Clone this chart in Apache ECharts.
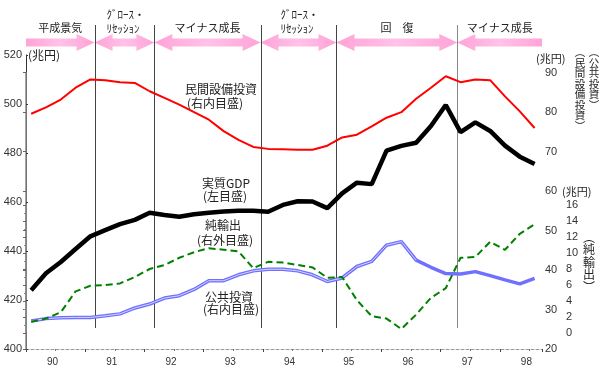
<!DOCTYPE html>
<html>
<head>
<meta charset="utf-8">
<script src="https://cdn.jsdelivr.net/npm/echarts/dist/echarts.min.js"></script>
<style>
html, body { margin: 0; padding: 0; background: #fff; }
#chart { width: 600px; height: 375px; }
</style>
</head>
<body>
<div id="chart"></div>
<script>
// 四半期 (90年1-3月期 ～ 98年7-9月期)
var quarters = ['90Q1','90Q2','90Q3','90Q4','91Q1','91Q2','91Q3','91Q4','92Q1','92Q2','92Q3','92Q4',
                '93Q1','93Q2','93Q3','93Q4','94Q1','94Q2','94Q3','94Q4','95Q1','95Q2','95Q3','95Q4',
                '96Q1','96Q2','96Q3','96Q4','97Q1','97Q2','97Q3','97Q4','98Q1','98Q2','98Q3'];
var years = ['90', '91', '92', '93', '94', '95', '96', '97', '98'];

// 実質GDP (左目盛)
var gdp = [424, 430.9, 435.5, 440.8, 446, 448.5, 451, 452.7, 455.6, 454.7, 454, 455,
           455.6, 456.1, 456.4, 456.4, 456, 458.8, 460.3, 460.2, 457.5, 463.5, 467.9, 467.3,
           481, 482.9, 484.2, 491, 499.6, 488.5, 492.5, 489, 483, 478.5, 475.5];
// 民間設備投資 (右内目盛)
var capex = [79.6, 81.2, 83.2, 86.2, 88.3, 88.1, 87.6, 87.4, 85.3, 83.6, 81.9, 80,
             78.1, 75.2, 73, 71.2, 70.7, 70.6, 70.5, 70.5, 71.5, 73.6, 74.3, 76.4,
             78.6, 80, 83.4, 86.2, 89.1, 87.6, 88.3, 88.1, 84, 80.2, 76];
// 公共投資 (右内目盛)
var pubInv = [27.1, 27.7, 27.9, 28, 28, 28.4, 28.9, 30.4, 31.4, 32.9, 33.5, 35.1,
              37.3, 37.3, 38.8, 39.8, 40.2, 40.2, 39.8, 38.8, 37.1, 38, 40.9, 42.2,
              46.3, 47.2, 42.5, 40.7, 39.1, 39, 39.6, 38.6, 37.5, 36.5, 37.9];
// 純輸出 (右外目盛)
var netExport = [1.4, 1.8, 2.6, 5.2, 5.9, 6, 6.2, 7, 8, 8.5, 9.4, 10.1,
                 10.6, 10.4, 10.2, 8.1, 8.9, 8.8, 8.5, 8.2, 6.9, 7, 4.1, 2.1,
                 1.8, 0.5, 2.3, 4.4, 5.6, 9.4, 9.5, 11.4, 10.4, 12.4, 13.6];

// 景気局面の境目 (四半期単位, 90年初 = 0)
var phaseBounds = [4.63, 8.67, 15.84, 20.97, 29.13];
var phaseNames = ['平成景気', 'ｸﾞﾛｰｽ・\nﾘｾｯｼｮﾝ', 'マイナス成長', 'ｸﾞﾛｰｽ・\nﾘｾｯｼｮﾝ', '回　復', 'マイナス成長'];

var qMax = 34.85;
var jp = '"Noto Sans CJK JP", sans-serif';
var num = '"Liberation Sans", Arial, sans-serif';

function pts(arr) {
    return arr.map(function (v, i) { return [i + 0.35, v]; });
}

var myChart = echarts.init(document.getElementById('chart'));

var option = {
    animation: false,
    textStyle: { fontFamily: jp },
    grid: [
        { left: 26, width: 516, top: 55, height: 294 },
        { left: 26, width: 516, top: 72.7, height: 276.3 },
        { left: 26, width: 516, top: 205, height: 128 }
    ],
    xAxis: [
        {
            gridIndex: 0, type: 'value', min: 0, max: qMax, interval: 4,
            axisLine: { lineStyle: { color: '#999', type: [3, 2] } },
            axisTick: { show: true, length: 3, lineStyle: { color: '#444' } },
            minorTick: { show: true, splitNumber: 2, length: 2, lineStyle: { color: '#777' } },
            axisLabel: { show: false },
            splitLine: { show: false }
        },
        {
            gridIndex: 0, type: 'value', min: 0, max: qMax, interval: 2, position: 'bottom',
            axisLine: { show: false }, axisTick: { show: false }, splitLine: { show: false },
            axisLabel: {
                fontFamily: num, fontSize: 10, color: '#333', margin: 8, padding: [0, 6, 0, 0],
                formatter: function (v) { return (v / 2) % 2 === 1 ? years[(v - 2) / 4] : ''; }
            }
        },
        { gridIndex: 1, type: 'value', min: 0, max: qMax, show: false },
        { gridIndex: 2, type: 'value', min: 0, max: qMax, show: false }
    ],
    yAxis: [
        {
            gridIndex: 0, type: 'value', min: 400, max: 520, interval: 20, position: 'left',
            axisLine: { show: true, lineStyle: { color: '#333' } },
            axisTick: { show: true, inside: true, length: 2, lineStyle: { color: '#333' } },
            axisLabel: { fontFamily: num, fontSize: 11, color: '#333', margin: 4 },
            splitLine: { show: false }
        },
        {
            gridIndex: 1, type: 'value', min: 20, max: 90, interval: 10, position: 'right',
            axisLine: { show: true, lineStyle: { color: '#888', width: 1.5 } },
            axisTick: { show: true, inside: true, length: 3, lineStyle: { color: '#666' } },
            axisLabel: { fontFamily: num, fontSize: 11, color: '#333', margin: 3 },
            splitLine: { show: false }
        },
        {
            gridIndex: 2, type: 'value', min: 0, max: 16, interval: 2, position: 'right', offset: 21,
            axisLine: { show: true, lineStyle: { color: '#888', width: 1.5 } },
            axisTick: { show: true, inside: true, length: 3, lineStyle: { color: '#666' } },
            minorTick: { show: true, splitNumber: 2, length: 2, lineStyle: { color: '#888' } },
            axisLabel: { fontFamily: num, fontSize: 11, color: '#333', margin: 3 },
            splitLine: { show: false }
        }
    ],
    series: [
        {
            name: '民間設備投資', type: 'line', xAxisIndex: 2, yAxisIndex: 1,
            symbol: 'none', lineStyle: { color: '#ff0000', width: 2 }, data: pts(capex)
        },
        {
            name: '実質GDP', type: 'line', xAxisIndex: 0, yAxisIndex: 0,
            symbol: 'none', lineStyle: { color: '#000', width: 4.5 }, data: pts(gdp)
        },
        {
            name: '公共投資', type: 'line', xAxisIndex: 2, yAxisIndex: 1,
            symbol: 'none', lineStyle: { color: '#7070ff', width: 3.5 }, data: pts(pubInv)
        },
        {
            name: '公共投資(内)', type: 'line', xAxisIndex: 2, yAxisIndex: 1,
            symbol: 'none', lineStyle: { color: '#d4d4ff', width: 1 }, data: pts(pubInv).slice(0, 27)
        },
        {
            name: '純輸出', type: 'line', xAxisIndex: 3, yAxisIndex: 2, clip: false,
            symbol: 'none', lineStyle: { color: '#008000', width: 2, type: [7, 4] }, data: pts(netExport)
        }
    ]
};
myChart.setOption(option);

// 上部の矢印・区切り線・注記
var edges = [0].concat(phaseBounds, [qMax]).map(function (q) {
    return myChart.convertToPixel({ xAxisIndex: 0 }, q);
});
var g = [];
var cy = 42.5, sh = 4, hh = 8.5, hl = 18;
for (var i = 0; i < phaseNames.length; i++) {
    var x1 = edges[i], x2 = edges[i + 1];
    var headL = i > 0, headR = i < phaseNames.length - 1;
    var p = [];
    if (headL) p.push([x1, cy], [x1 + hl, cy - hh], [x1 + hl, cy - sh]); else p.push([x1, cy - sh]);
    if (headR) p.push([x2 - hl, cy - sh], [x2 - hl, cy - hh], [x2, cy], [x2 - hl, cy + hh], [x2 - hl, cy + sh]);
    else p.push([x2, cy - sh], [x2, cy + sh]);
    if (headL) p.push([x1 + hl, cy + sh], [x1 + hl, cy + hh]); else p.push([x1, cy + sh]);
    g.push({
        type: 'polygon', silent: true, shape: { points: p },
        style: {
            fill: new echarts.graphic.LinearGradient(0, 0, 1, 0, [
                { offset: 0, color: '#ffa3d6' }, { offset: 0.5, color: '#ffc2e8' }, { offset: 1, color: '#ffa3d6' }
            ])
        }
    });
    var cx = (x1 + x2) / 2;
    if (phaseNames[i].indexOf('\n') >= 0) {
        g.push({
            type: 'text', silent: true,
            style: { text: phaseNames[i], x: cx - 18, y: 22, align: 'left', verticalAlign: 'middle',
                     font: '11px ' + jp, lineHeight: 14, fill: '#222' }
        });
    } else {
        g.push({
            type: 'text', silent: true,
            style: { text: phaseNames[i], x: cx, y: 28, align: 'center', verticalAlign: 'middle',
                     font: '11px ' + jp, fill: '#222' }
        });
    }
}
for (var j = 1; j < edges.length - 1; j++) {
    var lx = Math.round(edges[j]) + 0.5;
    g.push({
        type: 'line', silent: true,
        shape: { x1: lx, y1: 25, x2: lx, y2: 328 },
        style: { stroke: j === edges.length - 2 ? '#888' : '#444', lineWidth: 1 }
    });
}

function txt(t, x, y, size, align) {
    return {
        type: 'text', silent: true,
        style: { text: t, x: x, y: y, align: align || 'left', verticalAlign: 'middle',
                 font: size + 'px ' + jp, fill: '#222' }
    };
}
g.push(txt('民間設備投資', 185, 89, 12));
g.push(txt('(右内目盛)', 187, 103, 12));
g.push(txt('実質GDP', 202, 183, 12));
g.push(txt('(左目盛)', 203, 196, 12));
g.push(txt('純輸出', 205, 225, 12));
g.push(txt('(右外目盛)', 197, 240, 12));
g.push(txt('公共投資', 205, 297, 12));
g.push(txt('(右内目盛)', 203, 309, 12));

g.push(txt('(兆円)', 28, 55, 12));
g.push(txt('(兆円)', 536, 59, 11));
g.push(txt('(兆円)', 562, 192, 11));

// 縦書きの注記
function vtext(word, x, yTop, size, lh) {
    return {
        type: 'text', silent: true,
        style: {
            text: ('︵' + word + '︶').split('').join('\n'), x: x, y: yTop,
            align: 'center', verticalAlign: 'top',
            font: size + 'px ' + jp, lineHeight: lh, fill: '#222'
        }
    };
}
g.push(vtext('民間設備投資', 580, 47, 10.5, 10.5));
g.push(vtext('公共投資', 594, 47, 10.5, 10.5));
g.push(vtext('純輸出', 589, 231, 12, 12.5));

myChart.setOption({ graphic: g });
</script>
</body>
</html>
